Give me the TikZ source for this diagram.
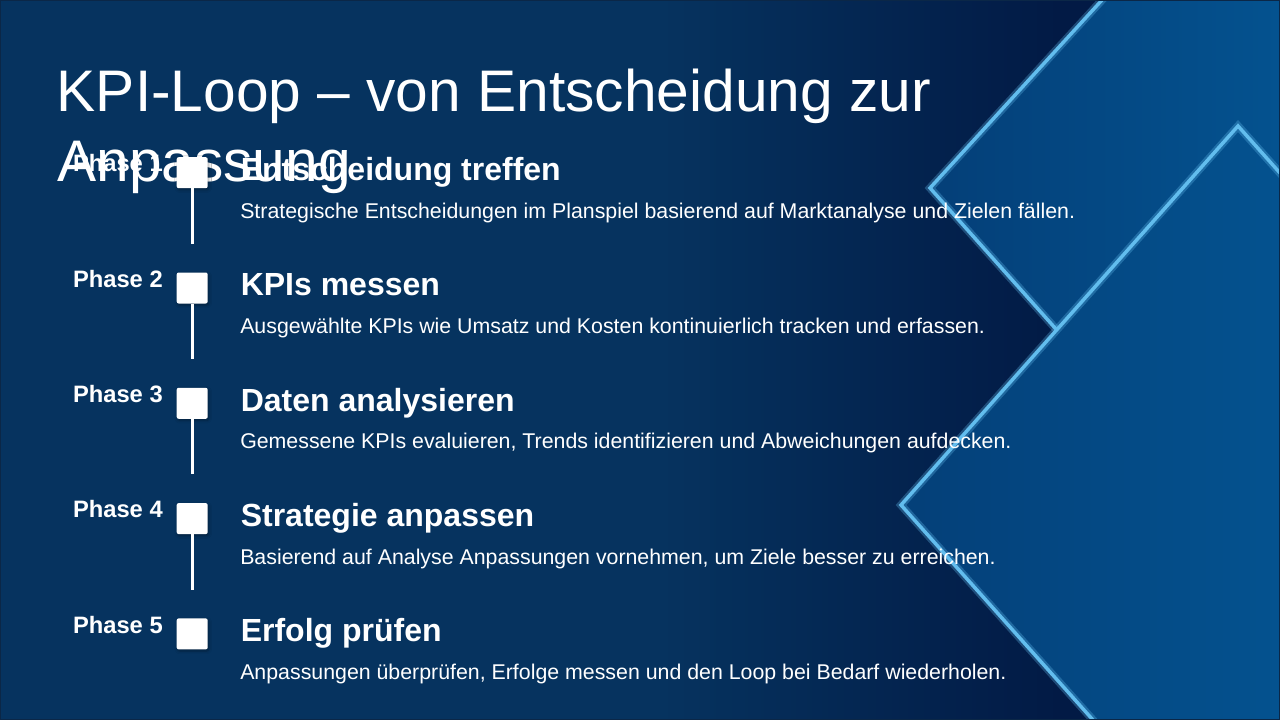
\documentclass[tikz,border=0pt]{standalone}
\usepackage{fontspec}
\setmainfont{Liberation Sans}
\usetikzlibrary{positioning, calc, shadows.blur}
\definecolor{navyleft}{HTML}{06335F}
\definecolor{navydark}{HTML}{021A45}
\definecolor{panelblue}{HTML}{04528F}
\definecolor{paneldeep}{HTML}{043F78}
\definecolor{edgeglow}{HTML}{62BDEE}
\definecolor{framenavy}{HTML}{0B2747}

\tikzset{
  titletext/.style={anchor=base west, inner sep=0pt, text=white, font=\fontsize{44}{52.5}\selectfont},
  phaselabel/.style={anchor=base east, inner sep=0pt, text=white, font=\bfseries\fontsize{17.8}{21}\selectfont},
  phasehead/.style={anchor=base west, inner sep=0pt, text=white, font=\bfseries\fontsize{24}{28}\selectfont},
  phasetext/.style={anchor=base west, inner sep=0pt, text=white, font=\fontsize{16}{19}\selectfont},
  marker/.style={fill=white, rounded corners=1.5pt, minimum size=23.25pt, inner sep=0pt,
    blur shadow={shadow xshift=0.8pt, shadow yshift=-1.2pt, shadow blur steps=4, shadow opacity=35}},
  stem/.style={white, line width=2.25pt},
  rim/.style={edgeglow, line width=2.6pt, line join=miter},
  rimglow/.style={edgeglow, opacity=0.3, line width=6pt, line join=miter},
}

\begin{document}
\begin{tikzpicture}[x=0.75pt, y=-0.75pt]
    \useasboundingbox (0,0) rectangle (1280,720);
    \clip (0,0) rectangle (1280,720);
    % background, darker towards the panels
    \fill[navyleft] (0,0) rectangle (660,720);
    \shade[left color=navyleft, right color=navydark] (660,0) rectangle (1060,720);
    \fill[navydark] (1060,0) rectangle (1280,720);

    % back panel
    \begin{scope}
      \clip (930,188) -- (1180,468) -- (1868,-284) -- (1618,-564) -- cycle;
      \shade[left color=paneldeep, right color=panelblue] (930,0) rectangle (1280,720);
    \end{scope}
    \draw[rimglow] (930,188) -- (1180,468) -- (1868,-284) -- (1618,-564) -- cycle;
    \draw[rim] (930,188) -- (1180,468) -- (1868,-284) -- (1618,-564) -- cycle;
    % front panel
    \begin{scope}
      \clip (901,505) -- (1238,126) -- (1638,574) -- (1301,953) -- cycle;
      \shade[left color=paneldeep, right color=panelblue] (900,0) rectangle (1280,720);
    \end{scope}
    \draw[rimglow] (901,505) -- (1238,126) -- (1638,574) -- (1301,953) -- cycle;
    \draw[rim] (901,505) -- (1238,126) -- (1638,574) -- (1301,953) -- cycle;

    \draw[framenavy, line width=0.75pt] (0.5,0.5) rectangle (1279.5,719.5);

    % title
    \node[titletext] (title1) at (56.5,111.7) {KPI-Loop – von Entscheidung zur};
    \node[titletext] (title2) at (57,181.7) {Anpassung};

    % phase 1
    \node[marker] (sq1) at (192.2,172.7) {};
    \node[phaselabel] (ph1) at (163,172) {Phase 1};
    \node[phasehead] (hd1) at (240.5,180.4) {Entscheidung treffen};
    \node[phasetext] (tx1) at (240,218.2) {Strategische Entscheidungen im Planspiel basierend auf Marktanalyse und Zielen fällen.};
    \coordinate (st1) at (192.2,243.7);
    \draw[stem] (sq1.south) -- (st1);

    % phase 2
    \node[marker] (sq2) at (192.2,288) {};
    \node[phaselabel] (ph2) at (163,287.3) {Phase 2};
    \node[phasehead] (hd2) at (240.5,295.7) {KPIs messen};
    \node[phasetext] (tx2) at (240,333.5) {Ausgewählte KPIs wie Umsatz und Kosten kontinuierlich tracken und erfassen.};
    \coordinate (st2) at (192.2,359);
    \draw[stem] (sq2.south) -- (st2);

    % phase 3
    \node[marker] (sq3) at (192.2,403.3) {};
    \node[phaselabel] (ph3) at (163,402.6) {Phase 3};
    \node[phasehead] (hd3) at (240.5,411) {Daten analysieren};
    \node[phasetext] (tx3) at (240,448.8) {Gemessene KPIs evaluieren, Trends identifizieren und Abweichungen aufdecken.};
    \coordinate (st3) at (192.2,474.3);
    \draw[stem] (sq3.south) -- (st3);

    % phase 4
    \node[marker] (sq4) at (192.2,518.6) {};
    \node[phaselabel] (ph4) at (163,517.9) {Phase 4};
    \node[phasehead] (hd4) at (240.5,526.3) {Strategie anpassen};
    \node[phasetext] (tx4) at (240,564.1) {Basierend auf Analyse Anpassungen vornehmen, um Ziele besser zu erreichen.};
    \coordinate (st4) at (192.2,589.6);
    \draw[stem] (sq4.south) -- (st4);

    % phase 5
    \node[marker] (sq5) at (192.2,633.9) {};
    \node[phaselabel] (ph5) at (163,633.2) {Phase 5};
    \node[phasehead] (hd5) at (240.5,641.6) {Erfolg prüfen};
    \node[phasetext] (tx5) at (240,679.4) {Anpassungen überprüfen, Erfolge messen und den Loop bei Bedarf wiederholen.};
  \end{tikzpicture}
\end{document}
